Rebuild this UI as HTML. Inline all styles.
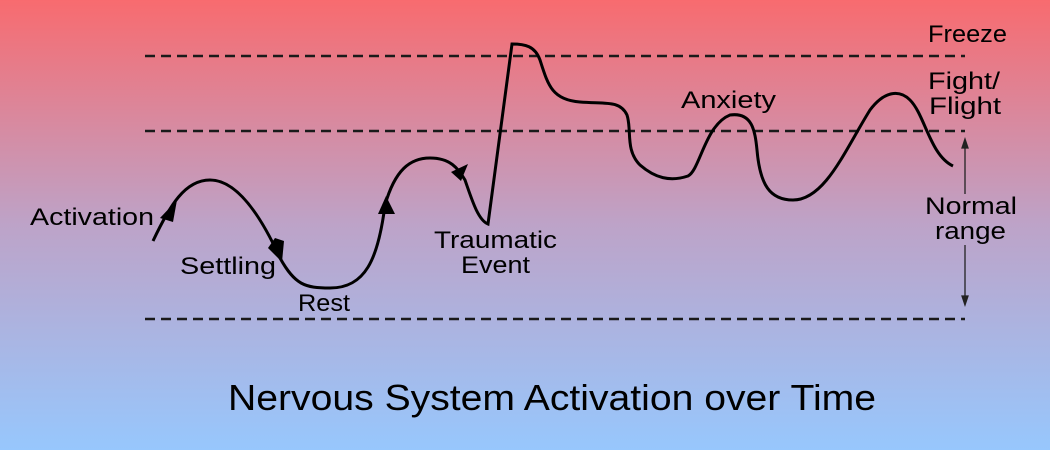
<!DOCTYPE html>
<html><head><meta charset="utf-8"><style>
html,body{margin:0;padding:0}
body{width:1050px;height:450px;overflow:hidden}
</style></head><body>
<svg width="1050" height="450" viewBox="0 0 1050 450" xmlns="http://www.w3.org/2000/svg" font-family="'Liberation Sans', sans-serif">
<defs>
<linearGradient id="g" x1="0" y1="0" x2="0" y2="1">
<stop offset="0" stop-color="#f86b6f"/>
<stop offset="0.5" stop-color="#bda3c8"/>
<stop offset="1" stop-color="#97c7fd"/>
</linearGradient>
</defs>
<rect width="1050" height="450" fill="url(#g)"/>
<g stroke="#1a1a1a" stroke-width="2.5" stroke-dasharray="10,6">
<line x1="145" y1="56" x2="965" y2="56"/>
<line x1="145" y1="131" x2="965" y2="131"/>
<line x1="145" y1="319" x2="965" y2="319"/>
</g>
<g stroke="#222" stroke-width="1.3" fill="#222">
<line x1="965" y1="146" x2="965" y2="194"/>
<line x1="965" y1="245" x2="965" y2="298"/>
<polygon points="965,139 962,148 968,148"/>
<polygon points="965,305 962,296 968,296"/>
</g>
<path d="M153,241 C170,205 185,180 210,180 C240,180 265,225 280,258 C295,285 305,288 330,288 C365,288 378,260 385,205 C395,170 410,158 430,158 C450,158 458,168 465,180 C472,200 478,220 488,224 L512,44 C525,44 535,46 540,60 C548,85 552,100 580,102 C605,104 620,100 627,115 C632,130 625,150 640,165 C655,178 670,182 688,176 C700,170 705,125 730,115 C752,112 755,130 757,150 C760,185 770,200 793,200 C825,200 845,150 870,110 C885,90 900,90 910,100 C925,115 930,155 953,166" fill="none" stroke="#000" stroke-width="3"/>
<g fill="#000">
<polygon points="160,218 177,200 173,222"/>
<polygon points="275,238 284,241 282,262 268,248"/>
<polygon points="386,196 378,214 395,214"/>
<polygon points="468,164 461,181 451,172"/>
</g>
<g font-size="24" fill="#000" lengthAdjust="spacingAndGlyphs">
<text x="30" y="225" textLength="124" lengthAdjust="spacingAndGlyphs">Activation</text>
<text x="180" y="274" textLength="96" lengthAdjust="spacingAndGlyphs">Settling</text>
<text x="298" y="311" textLength="52" lengthAdjust="spacingAndGlyphs">Rest</text>
<text x="434" y="248" textLength="123" lengthAdjust="spacingAndGlyphs">Traumatic</text>
<text x="461" y="273" textLength="69" lengthAdjust="spacingAndGlyphs">Event</text>
<text x="681" y="108" textLength="95" lengthAdjust="spacingAndGlyphs">Anxiety</text>
<text x="928" y="42" textLength="79" lengthAdjust="spacingAndGlyphs">Freeze</text>
<text x="928" y="89" textLength="72" lengthAdjust="spacingAndGlyphs">Fight/</text>
<text x="929" y="114" textLength="72" lengthAdjust="spacingAndGlyphs">Flight</text>
<text x="925" y="214" textLength="92" lengthAdjust="spacingAndGlyphs">Normal</text>
<text x="935" y="239" textLength="71" lengthAdjust="spacingAndGlyphs">range</text>
</g>
<text x="228" y="410" font-size="36" textLength="648" lengthAdjust="spacingAndGlyphs" fill="#000">Nervous System Activation over Time</text>
</svg>
</body></html>
